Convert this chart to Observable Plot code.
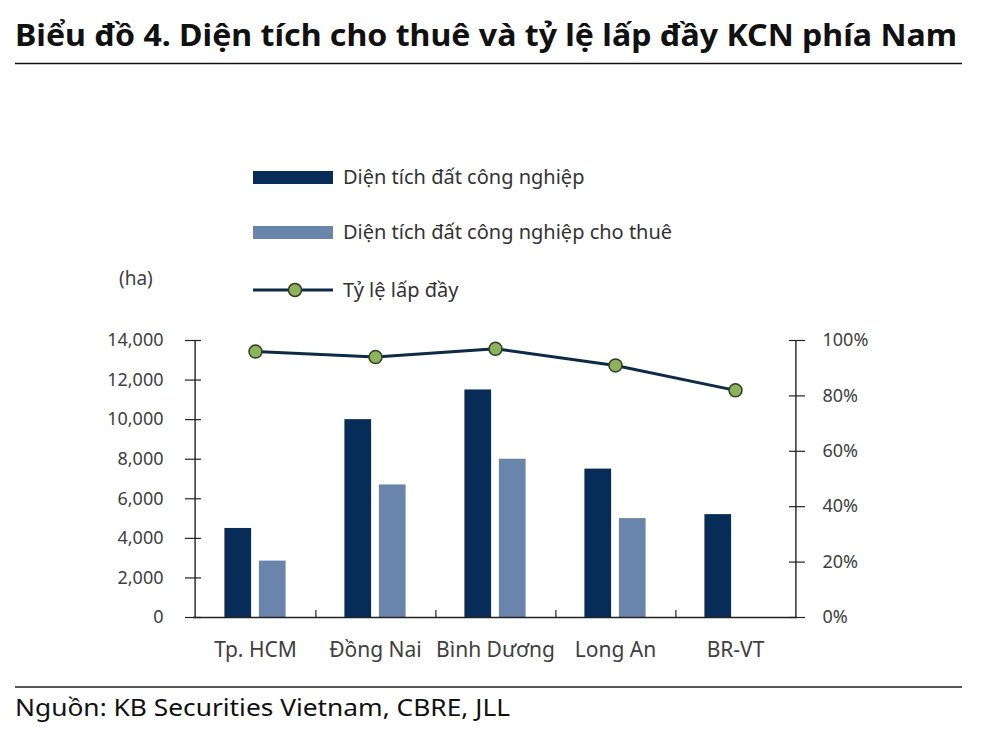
<!DOCTYPE html>
<html>
<head>
<meta charset="utf-8">
<script src="https://cdn.jsdelivr.net/npm/d3@7"></script>
<script src="https://cdn.jsdelivr.net/npm/@observablehq/plot@0.6"></script>
<style>
  html, body { margin: 0; padding: 0; background: #fff; }
  #wrap { position: relative; width: 1000px; height: 734px; overflow: hidden; font-family: "Noto Sans", sans-serif; }
  #chart { position: absolute; left: 0; top: 0; }
  .abs { position: absolute; }
  .leg { position: absolute; left: 253px; font-size: 20px; color: #333; display: flex; align-items: center; }
  .leg svg { margin-right: 10px; }
</style>
</head>
<body>
<div id="wrap">
  <div id="chart"></div>
  <svg class="abs" style="left:0;top:0" width="1000" height="70">
    <text x="15" y="46" font-family="Noto Sans" font-weight="bold" font-size="31" fill="#111" textLength="942" lengthAdjust="spacingAndGlyphs">Biểu đồ 4. Diện tích cho thuê và tỷ lệ lấp đầy KCN phía Nam</text>
    <line x1="15" x2="962" y1="63.5" y2="63.5" stroke="#111" stroke-width="1.5"/>
  </svg>
  <div id="legend"></div>
  <div class="abs" style="left:119px;top:265px;font-size:19px;color:#404040">(ha)</div>
  <svg class="abs" style="left:0;top:680px" width="1000" height="54">
    <line x1="15" x2="962" y1="7" y2="7" stroke="#222" stroke-width="1.5"/>
    <text x="15" y="36" font-family="Noto Sans" font-size="23" fill="#111" textLength="495" lengthAdjust="spacingAndGlyphs">Nguồn: KB Securities Vietnam, CBRE, JLL</text>
  </svg>
</div>
<script>
// ---- data ----
const categories = ["Tp. HCM", "Đồng Nai", "Bình Dương", "Long An", "BR-VT"];
const totalArea = [4500, 10000, 11500, 7500, 5200];          // Diện tích đất công nghiệp (ha)
const leasedArea = [2850, 6700, 8000, 5000, null];           // Diện tích đất công nghiệp cho thuê (ha)
const occupancy = [96, 94, 97, 91, 82];                      // Tỷ lệ lấp đầy (%)
const leftTicks = [0, 2000, 4000, 6000, 8000, 10000, 12000, 14000];
const rightTickLabels = [0, 20, 40, 60, 80, 100];
const seriesNames = ["Diện tích đất công nghiệp", "Diện tích đất công nghiệp cho thuê", "Tỷ lệ lấp đầy"];

const darkColor = "#062c57";
const lightColor = "#6985ab";
const lineColor = "#0d2a48";
const dotFill = "#8db35a";
const dotStroke = "#2f3f22";
const axisColor = "#222";

const yMax = 14000;
const pctScale = yMax / 100;

const totalData = categories.map((c, i) => ({c, v: totalArea[i]}));
const leasedData = categories.map((c, i) => ({c, v: leasedArea[i]})).filter(d => d.v != null);
const occData = categories.map((c, i) => ({c, v: occupancy[i] * pctScale}));
const rightTicks = rightTickLabels.map(p => p * pctScale);

const W = 1000, H = 734;
const mL = 193, mR = 203, mT = 340, mB = 117;
const plotW = W - mL - mR;
const band = plotW / categories.length;
const barW = 27.5, gap = 7, groupPad = (band - 2 * barW - gap) / 2;
const tickLen = 8;

const chart = Plot.plot({
  width: W,
  height: H,
  marginLeft: mL,
  marginRight: mR,
  marginTop: mT,
  marginBottom: mB,
  style: {fontFamily: "Noto Sans", fontSize: "18px", color: "#404040", background: "transparent"},
  x: {type: "band", domain: categories, padding: 0, label: null},
  y: {domain: [0, yMax], label: null},
  marks: [
    Plot.barY(totalData, {x: "c", y: "v", fill: darkColor, insetLeft: groupPad, insetRight: band - groupPad - barW}),
    Plot.barY(leasedData, {x: "c", y: "v", fill: lightColor, insetLeft: groupPad + barW + gap, insetRight: groupPad}),
    // left axis labels + ticks crossing the axis
    Plot.axisY({anchor: "left", ticks: leftTicks, tickSize: 0, tickPadding: 30,
      tickFormat: d => d3.format(",")(d), fontSize: 18, fill: "#404040"}),
    Plot.ruleY(leftTicks, {y: d => d, stroke: axisColor, strokeWidth: 1.2, insetRight: plotW - 2 * tickLen, dx: -tickLen}),
    // right axis labels + ticks
    Plot.axisY({anchor: "right", ticks: rightTicks, tickSize: 0, tickPadding: 25,
      tickFormat: d => Math.round(d / pctScale) + "%", fontSize: 18, fill: "#404040"}),
    Plot.ruleY(rightTicks, {y: d => d, stroke: axisColor, strokeWidth: 1.2, insetLeft: plotW - 2 * tickLen, dx: tickLen}),
    // vertical axis lines
    Plot.ruleX([categories[0]], {x: d => d, y1: 0, y2: yMax, dx: -band / 2, stroke: axisColor, strokeWidth: 1.4}),
    Plot.ruleX([categories[categories.length - 1]], {x: d => d, y1: 0, y2: yMax, dx: band / 2, stroke: axisColor, strokeWidth: 1.4}),
    // x axis
    Plot.axisX({anchor: "bottom", tickSize: 0, tickPadding: 25, fontSize: 21, fill: "#404040"}),
    Plot.ruleX(categories.slice(0, -1), {x: d => d, y1: 0, y2: 360, dx: band / 2, stroke: axisColor, strokeWidth: 1.2}),
    Plot.ruleY([0], {stroke: axisColor, strokeWidth: 1.4}),
    // occupancy line
    Plot.line(occData, {x: "c", y: "v", stroke: lineColor, strokeWidth: 3}),
    Plot.dot(occData, {x: "c", y: "v", r: 6.5, fill: dotFill, stroke: dotStroke, strokeWidth: 1.5})
  ]
});
document.getElementById("chart").appendChild(chart);

// ---- legend ----
const legend = document.getElementById("legend");
const legendRows = [
  {name: seriesNames[0], type: "bar", color: darkColor, top: 163},
  {name: seriesNames[1], type: "bar", color: lightColor, top: 218},
  {name: seriesNames[2], type: "line", color: lineColor, top: 276}
];
for (const r of legendRows) {
  const row = document.createElement("div");
  row.className = "leg";
  row.style.top = r.top + "px";
  const sw = r.type === "bar"
    ? `<svg width="80" height="14"><rect x="0" y="1" width="80" height="13" fill="${r.color}"/></svg>`
    : `<svg width="80" height="18"><line x1="0" x2="80" y1="9" y2="9" stroke="${r.color}" stroke-width="3"/><circle cx="42" cy="9" r="6.5" fill="${dotFill}" stroke="${dotStroke}" stroke-width="1.5"/></svg>`;
  row.innerHTML = sw + `<span>${r.name}</span>`;
  legend.appendChild(row);
}
</script>
</body>
</html>
